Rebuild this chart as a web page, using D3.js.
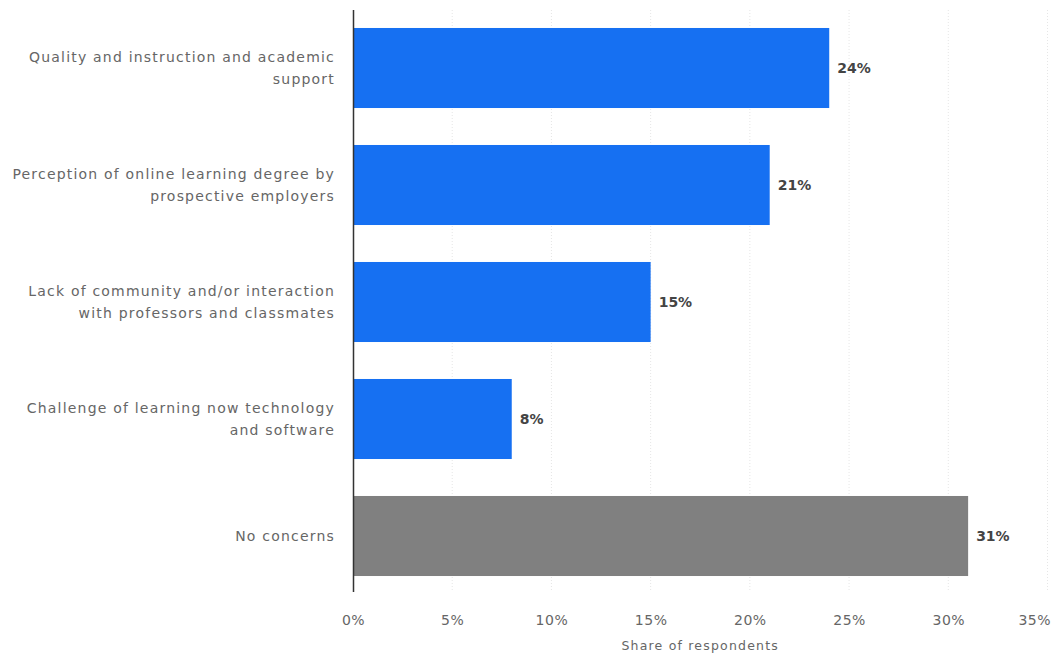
<!DOCTYPE html>
<html>
<head>
<meta charset="utf-8">
<script src="https://cdn.jsdelivr.net/npm/d3@7"></script>
<style>
  body { margin: 0; background: #fff; }
  svg { display: block; font-family: "DejaVu Sans", Verdana, sans-serif; }
</style>
</head>
<body>
<script>
//chart data
var categories = [
    ["Quality and instruction and academic", "support"],
    ["Perception of online learning degree by", "prospective employers"],
    ["Lack of community and/or interaction", "with professors and classmates"],
    ["Challenge of learning now technology", "and software"],
    ["No concerns"]
];
var values = [24, 21, 15, 8, 31];
var barColors = ["#1670f2", "#1670f2", "#1670f2", "#1670f2", "#808080"];
var tickValues = [0, 5, 10, 15, 20, 25, 30, 35];

var width = 1051,
    height = 653,
    plotLeft = 353,
    plotRight = 1047.5,
    plotTop = 9.5,
    plotBottom = 594.5;

var svg = d3.select("body")
    .append("svg")
    .attr("width", width)
    .attr("height", height);

var x = d3.scaleLinear().domain([0, 35]).range([plotLeft, plotRight]);
var y = d3.scaleBand()
    .domain(d3.range(values.length))
    .range([plotTop, plotBottom])
    .paddingInner(0.316)
    .paddingOuter(0.158);

//dotted gridlines
svg.selectAll(".grid")
    .data(tickValues.slice(1))
    .enter()
    .append("line")
    .attr("class", "grid")
    .attr("x1", function (d) { return x(d); })
    .attr("x2", function (d) { return x(d); })
    .attr("y1", 10)
    .attr("y2", 592)
    .attr("stroke", "#e6e6e6")
    .attr("stroke-dasharray", "1,2");

//bars
svg.selectAll(".bar")
    .data(values)
    .enter()
    .append("rect")
    .attr("class", "bar")
    .attr("x", x(0))
    .attr("y", function (d, i) { return y(i); })
    .attr("width", function (d) { return x(d) - x(0); })
    .attr("height", y.bandwidth())
    .attr("fill", function (d, i) { return barColors[i]; });

//value labels
svg.selectAll(".value")
    .data(values)
    .enter()
    .append("text")
    .attr("class", "value")
    .attr("x", function (d) { return x(d) + 8; })
    .attr("y", function (d, i) { return y(i) + y.bandwidth() / 2; })
    .attr("dy", "0.35em")
    .attr("font-size", 14)
    .attr("font-weight", "bold")
    .attr("fill", "#444")
    .text(function (d) { return d + "%"; });

//category labels
var cats = svg.selectAll(".cat")
    .data(categories)
    .enter()
    .append("text")
    .attr("class", "cat")
    .attr("text-anchor", "end")
    .attr("font-size", 14)
    .attr("letter-spacing", 1.2)
    .attr("fill", "#666");

cats.each(function (lines, i) {
    var cy = y(i) + y.bandwidth() / 2;
    var lh = 22;
    d3.select(this).selectAll("tspan")
        .data(lines)
        .enter()
        .append("tspan")
        .attr("x", 335)
        .attr("y", function (d, j) { return cy + (j - (lines.length - 1) / 2) * lh; })
        .attr("dy", "0.35em")
        .text(function (d) { return d; });
});

//axis line
svg.append("line")
    .attr("x1", x(0) + 0.5)
    .attr("x2", x(0) + 0.5)
    .attr("y1", 10)
    .attr("y2", 592)
    .attr("stroke", "#333")
    .attr("stroke-width", 1.5);

//x axis
var xAxis = d3.axisBottom(x)
    .tickValues(tickValues)
    .tickSize(0)
    .tickPadding(0)
    .tickFormat(function (d) { return d + "%"; });

var gx = svg.append("g")
    .attr("transform", "translate(0,615)")
    .call(xAxis);
gx.select(".domain").remove();
gx.selectAll("text")
    .attr("font-family", "\"DejaVu Sans\", Verdana, sans-serif")
    .attr("font-size", 14)
    .attr("letter-spacing", 0.5)
    .attr("fill", "#666");
gx.selectAll("text")
    .filter(function (d) { return d === 35; })
    .attr("text-anchor", "end")
    .attr("x", 3);

svg.append("text")
    .attr("x", (plotLeft + plotRight) / 2)
    .attr("y", 650)
    .attr("text-anchor", "middle")
    .attr("font-size", 12.5)
    .attr("letter-spacing", 1.2)
    .attr("fill", "#666")
    .text("Share of respondents");
</script>
</body>
</html>
